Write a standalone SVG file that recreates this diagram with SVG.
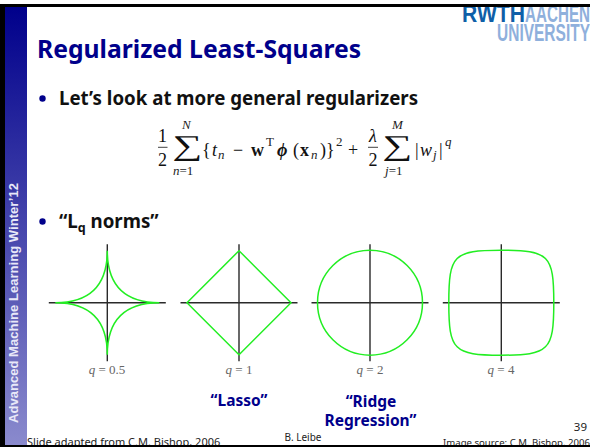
<svg xmlns="http://www.w3.org/2000/svg" width="590" height="447" viewBox="0 0 590 447">
<defs><linearGradient id="bar" x1="0" y1="0" x2="0" y2="1"><stop offset="0" stop-color="#00008b"/><stop offset="1" stop-color="#8a8acd"/></linearGradient>
<g id="axes"><path d="M-58.5 0H58.5M0 -58.5V58.5" class="ax"/></g></defs>
<style>
text{font-family:"Noto Sans","DejaVu Sans",sans-serif}
.ax{stroke:#2a2a2a;stroke-width:1.4;fill:none}
.cv{stroke:#22ee22;stroke-width:1.5;fill:none}
.ttl{font-size:24.7px;font-weight:700;fill:#00008b}
.b{font-size:18.7px;font-weight:700;fill:#111}
.lb{font-size:15.5px;font-weight:700;fill:#00008b;text-anchor:middle}
.m{font-family:"Liberation Serif",serif;font-size:18px;fill:#111}
.i{font-style:italic}.w{font-weight:700}
.s{font-family:"Liberation Serif",serif;font-size:13px;fill:#222}
.q{font-family:"Liberation Serif",serif;font-size:13px;fill:#666;text-anchor:middle}
.rw{font-family:"Liberation Sans",sans-serif;font-weight:700;font-size:23.5px}
</style>
<rect width="590" height="447" fill="#fff"/>
<g id="logo"><text class="rw" x="462" y="22" fill="#0f5fa8" textLength="63" lengthAdjust="spacingAndGlyphs">RWTH</text><text class="rw" x="525" y="22" fill="#8fb0dc" textLength="65" lengthAdjust="spacingAndGlyphs">AACHEN</text><text class="rw" x="497" y="41" fill="#8fb0dc" textLength="93" lengthAdjust="spacingAndGlyphs">UNIVERSITY</text></g>
<g id="frame"><rect x="0" y="0" width="590" height="4" fill="#fff"/><rect x="0" y="4" width="590" height="3" fill="#000"/><rect x="0" y="4" width="5" height="443" fill="#000"/><rect x="5" y="7" width="22" height="438" fill="url(#bar)"/></g>
<text transform="translate(17.5 423) rotate(-90)" font-size="13" font-weight="700" fill="#e8e8f8" style="font-family:'Liberation Sans',sans-serif" textLength="240">Advanced Machine Learning Winter’12</text>
<text class="ttl" x="37" y="58">Regularized Least-Squares</text>
<g id="bullet1"><circle cx="42.5" cy="98.5" r="3.2" fill="#00008b"/><text class="b" x="59" y="105">Let’s look at more general regularizers</text></g>
<g id="formula">
<text class="m" x="162.5" y="142" text-anchor="middle">1</text><path d="M158 147.3h9.5" stroke="#111" stroke-width=".8"/><text class="m" x="162.5" y="165.5" text-anchor="middle">2</text>
<text class="m" transform="translate(172.5 155) scale(1.4 .95)" style="font-size:30px">∑</text>
<text class="s i" x="182" y="129">N</text><text class="s" x="173" y="175"><tspan class="i">n</tspan>=1</text>
<text class="m" x="202" y="155.5">{</text><text class="m i" x="212" y="155.5">t</text><text class="s i" x="218" y="158.5">n</text><text class="m" x="233" y="155.5">−</text><text class="m w" x="251" y="155.5">w</text><text class="s" x="266" y="146">T</text><text class="m i w" x="277" y="155.5">ϕ</text><text class="m" x="293" y="155.5">(</text><text class="m w" x="300" y="155.5">x</text><text class="s i" x="311" y="158.5">n</text><text class="m" x="320" y="155.5">)</text><text class="m" x="326" y="155.5">}</text><text class="s" x="336" y="146">2</text><text class="m" x="348" y="155.5">+</text>
<text class="m i" x="373" y="142" text-anchor="middle">λ</text><path d="M368 147.3h10" stroke="#111" stroke-width=".8"/><text class="m" x="373" y="165.5" text-anchor="middle">2</text>
<text class="m" transform="translate(382.5 155) scale(1.4 .95)" style="font-size:30px">∑</text>
<text class="s i" x="392" y="129">M</text><text class="s" x="385" y="175"><tspan class="i">j</tspan>=1</text>
<text class="m" x="415" y="155.5">|</text><text class="m i" x="420" y="155.5">w</text><text class="s i" x="433" y="158.5">j</text><text class="m" x="439" y="155.5">|</text><text class="s i" x="445" y="146">q</text>
</g>
<g id="bullet2"><circle cx="42.5" cy="221.5" r="3.2" fill="#00008b"/><text class="b" x="59" y="228">“L<tspan font-size="12.5" dy="4">q</tspan><tspan dy="-4"> norms”</tspan></text></g>
<g id="plot-q05" transform="translate(107.3 302.7)"><use href="#axes"/><path class="cv" d="M52 0Q0 0 0 52Q0 0 -52 0Q0 0 0 -52Q0 0 52 0Z"/></g>
<g id="plot-q1" transform="translate(239 302.7)"><use href="#axes"/><path class="cv" d="M52 0L0 52L-52 0L0 -52Z"/></g>
<g id="plot-q2" transform="translate(370 302.7)"><use href="#axes"/><circle class="cv" r="52.5"/></g>
<g id="plot-q4" transform="translate(501.3 302.7)"><use href="#axes"/><path class="cv" d="M52.5 0C52.5 47.7 47.7 52.5 0 52.5C-47.7 52.5 -52.5 47.7 -52.5 0C-52.5 -47.7 -47.7 -52.5 0 -52.5C47.7 -52.5 52.5 -47.7 52.5 0Z"/></g>
<g id="qlabels"><text class="q" x="107" y="374"><tspan class="i">q</tspan> = 0.5</text><text class="q" x="239" y="374"><tspan class="i">q</tspan> = 1</text><text class="q" x="370" y="374"><tspan class="i">q</tspan> = 2</text><text class="q" x="501" y="374"><tspan class="i">q</tspan> = 4</text></g>
<text class="lb" x="239" y="405.5">“Lasso”</text>
<text class="lb" x="371" y="406.5">“Ridge</text><text class="lb" x="370.5" y="425.5">Regression”</text>
<text x="27" y="446" font-size="11" fill="#222">Slide adapted from C.M. Bishop, 2006</text>
<text x="303" y="441" text-anchor="middle" font-size="10" fill="#222">B. Leibe</text>
<text x="590" y="445.5" text-anchor="end" font-size="9.6" fill="#222">Image source: C.M. Bishop, 2006</text>
<text x="587" y="431" text-anchor="end" font-size="11.5" fill="#222">39</text>
<rect x="0" y="445" width="590" height="2" fill="#000"/>
</svg>
